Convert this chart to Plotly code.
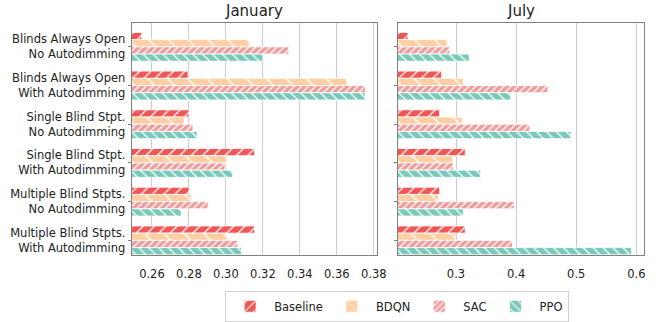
import plotly.graph_objects as go

# Scenario labels (top to bottom) and controller names
scenarios = [
    "Blinds Always Open<br>No Autodimming",
    "Blinds Always Open<br>With Autodimming",
    "Single Blind Stpt.<br>No Autodimming",
    "Single Blind Stpt.<br>With Autodimming",
    "Multiple Blind Stpts.<br>No Autodimming",
    "Multiple Blind Stpts.<br>With Autodimming",
]
methods = ["Baseline", "BDQN", "SAC", "PPO"]

# January results per controller
jan_baseline = [0.2545, 0.2795, 0.2801, 0.3155, 0.2801, 0.3155]
jan_bdqn = [0.3126, 0.3654, 0.2774, 0.3005, 0.2812, 0.3005]
jan_sac = [0.3340, 0.3756, 0.2822, 0.2995, 0.2904, 0.3064]
jan_ppo = [0.3200, 0.3754, 0.2844, 0.3037, 0.2758, 0.3085]

# July results per controller
jul_baseline = [0.2203, 0.2760, 0.2728, 0.3154, 0.2728, 0.3154]
jul_bdqn = [0.2848, 0.3120, 0.3105, 0.2946, 0.2705, 0.2995]
jul_sac = [0.2897, 0.4530, 0.4230, 0.2957, 0.3970, 0.3940]
jul_ppo = [0.3220, 0.3910, 0.4910, 0.3410, 0.3120, 0.5920]

jan_ticks = [0.26, 0.28, 0.30, 0.32, 0.34, 0.36, 0.38]
jul_ticks = [0.3, 0.4, 0.5, 0.6]

colors = ["#f05656", "#ffcfa3", "#f09c9c", "#79c9ba"]
hatches = [
    dict(shape="/", size=8, solidity=0.16),
    dict(shape="\\", size=14, solidity=0.1),
    dict(shape="/", size=5, solidity=0.28),
    dict(shape="\\", size=7, solidity=0.18),
]

jan = [jan_baseline, jan_bdqn, jan_sac, jan_ppo]
jul = [jul_baseline, jul_bdqn, jul_sac, jul_ppo]

fig = go.Figure()
for i, name in enumerate(methods):
    pat = dict(fgcolor="#ffffff", bgcolor=colors[i], fillmode="replace", **hatches[i])
    for vals, xa, ya, show in [(jan[i], "x", "y", True), (jul[i], "x2", "y2", False)]:
        fig.add_trace(go.Bar(
            x=vals, y=scenarios, orientation="h", name=name,
            legendgroup=name, showlegend=show,
            marker=dict(color=colors[i], pattern=pat,
                        line=dict(color="white", width=0.8)),
            xaxis=xa, yaxis=ya,
        ))

font = dict(family="DejaVu Sans", size=11.5, color="#222222")
axis_common = dict(showline=True, mirror=True, linecolor="#808080", linewidth=1,
                   zeroline=False)
yrange = [5.383, -0.622]

fig.update_layout(
    width=667, height=322,
    margin=dict(l=0, r=0, t=0, b=0),
    paper_bgcolor="white", plot_bgcolor="white",
    font=font,
    barmode="group", bargap=0.255, bargroupgap=0.0,
    xaxis=dict(domain=[0.2, 0.5732], range=[0.249, 0.3818],
               tickvals=jan_ticks, ticktext=[f"{t:.2f}" for t in jan_ticks],
               showgrid=True, gridcolor="#cccccc", gridwidth=1,
               ticks="", ticklabelstandoff=8, anchor="y", **axis_common),
    xaxis2=dict(domain=[0.6047, 0.978], range=[0.2033, 0.612],
                tickvals=jul_ticks, ticktext=[f"{t:.1f}" for t in jul_ticks],
                showgrid=True, gridcolor="#cccccc", gridwidth=1,
                ticks="", ticklabelstandoff=8, anchor="y2", **axis_common),
    yaxis=dict(domain=[0.1873, 0.9276], range=yrange, type="category",
               categoryorder="array", categoryarray=scenarios,
               ticks="outside", ticklen=3, tickcolor="#808080",
               showgrid=False, anchor="x", **axis_common),
    yaxis2=dict(domain=[0.1873, 0.9276], range=yrange, type="category",
                categoryorder="array", categoryarray=scenarios,
                ticks="outside", ticklen=3, tickcolor="#808080",
                showticklabels=False, showgrid=False, anchor="x2", **axis_common),
    legend=dict(orientation="h", x=0.6036, xanchor="center", y=0.074, yanchor="top",
                bordercolor="#d0d0d0", borderwidth=1, bgcolor="white",
                itemwidth=38,
                font=dict(family="DejaVu Sans", size=11.5, color="#222222"),
                traceorder="normal"),
    annotations=[
        dict(text="January", x=(0.2 + 0.5732) / 2, y=0.9276, xref="paper", yref="paper",
             xanchor="center", yanchor="bottom", yshift=1, showarrow=False,
             font=dict(family="DejaVu Sans", size=15, color="#222222")),
        dict(text="July", x=(0.6047 + 0.978) / 2, y=0.9276, xref="paper", yref="paper",
             xanchor="center", yanchor="bottom", yshift=1, showarrow=False,
             font=dict(family="DejaVu Sans", size=15, color="#222222")),
    ],
)

fig.write_html("out.html")
